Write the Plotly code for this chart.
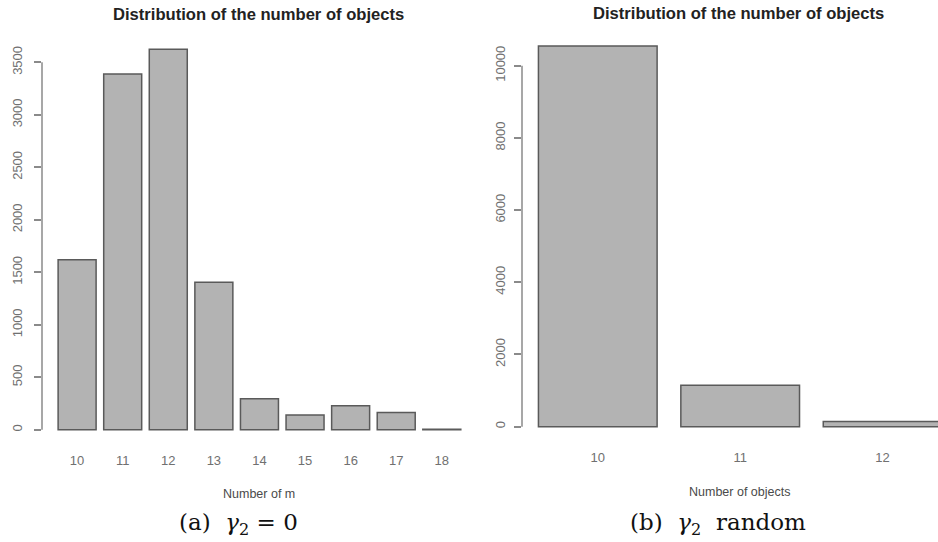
import plotly.graph_objects as go

# ---- data ----
cats_a = ["10", "11", "12", "13", "14", "15", "16", "17", "18"]
vals_a = [1620, 3390, 3625, 1405, 295, 140, 230, 165, 5]
ticks_a = [0, 500, 1000, 1500, 2000, 2500, 3000, 3500]

cats_b = ["10", "11", "12"]
vals_b = [10545, 1150, 140]
ticks_b = [0, 2000, 4000, 6000, 8000, 10000]

title_text = "Distribution of the number of objects"
xlabel_a = "Number of m"
xlabel_b = "Number of objects"
caption_a = "(a)&nbsp; <i>γ</i><sub>2</sub> = 0"
caption_b = "(b)&nbsp; <i>γ</i><sub>2</sub>&nbsp; random"

W, H = 938, 542
BAR_FILL = "#b3b3b3"
BAR_LINE = "#5a5a5a"
TICK_COL = "#707070"
SANS = "Liberation Sans, Arial, sans-serif"

fig = go.Figure()
fig.add_trace(go.Bar(x=cats_a, y=vals_a, xaxis="x", yaxis="y",
                     marker=dict(color=BAR_FILL, line=dict(color=BAR_LINE, width=1.5)),
                     showlegend=False))
fig.add_trace(go.Bar(x=cats_b, y=vals_b, xaxis="x2", yaxis="y2",
                     marker=dict(color=BAR_FILL, line=dict(color=BAR_LINE, width=1.5)),
                     showlegend=False))

def yr(vals):
    m = max(vals)
    return [-0.04 * m, 1.04 * m]

xaxis_common = dict(type="category", showgrid=False, zeroline=False, showline=False,
                    ticks="", tickfont=dict(family=SANS, size=13, color=TICK_COL),
                    ticklabelstandoff=6, fixedrange=True)
yaxis_common = dict(showgrid=False, zeroline=False, showline=False, ticks="outside",
                    ticklen=7, tickcolor="#8a8a8a", tickwidth=1.5, tickangle=-90,
                    tickformat="d",
                    tickfont=dict(family=SANS, size=13, color=TICK_COL), fixedrange=True)

fig.update_layout(
    width=W, height=H,
    margin=dict(l=0, r=0, t=0, b=0),
    paper_bgcolor="white", plot_bgcolor="white",
    bargap=1/6,
    xaxis=dict(xaxis_common, domain=[42/W, 470/W], range=[-0.77, (470-77)/45.6], anchor="y"),
    yaxis=dict(yaxis_common, domain=[1-445/H, 1-34/H], range=yr(vals_a), tickvals=ticks_a,
               anchor="x", ticklabelstandoff=7),
    xaxis2=dict(xaxis_common, domain=[522/W, 1.0], range=[-0.532, 2.389], anchor="y2"),
    yaxis2=dict(yaxis_common, domain=[1-441.9/H, 1-30.8/H], range=yr(vals_b), tickvals=ticks_b,
                anchor="x2", ticklabelstandoff=4),
)

# axis lines spanning the tick range only (R style)
for xr, yref, tv in [("x domain", "y", ticks_a), ("x2 domain", "y2", ticks_b)]:
    fig.add_shape(type="line", xref=xr, yref=yref, x0=0, x1=0, y0=min(tv), y1=max(tv),
                  line=dict(color="#8a8a8a", width=1.5))

ann = []
for cx, cy, txt in [(258/W, 1-15/H, title_text), (738/W, 1-13/H, title_text)]:
    ann.append(dict(x=cx, y=cy, xref="paper", yref="paper", text="<b>%s</b>" % txt,
                    showarrow=False, font=dict(family=SANS, size=16.6, color="#222222"),
                    xanchor="center", yanchor="middle"))
for cx, cy, txt in [(259/W, 1-494/H, xlabel_a), (739/W, 1-492/H, xlabel_b)]:
    ann.append(dict(x=cx, y=cy, xref="paper", yref="paper", text=txt, showarrow=False,
                    font=dict(family=SANS, size=12.5, color="#4a4a4a"),
                    xanchor="center", yanchor="middle"))
for cx, cy, txt in [(238/W, 1-524/H, caption_a), (718/W, 1-524/H, caption_b)]:
    ann.append(dict(x=cx, y=cy, xref="paper", yref="paper", text=txt, showarrow=False,
                    font=dict(family="DejaVu Serif, Liberation Serif, serif", size=23, color="#111111"),
                    xanchor="center", yanchor="middle"))
fig.update_layout(annotations=ann)

fig.write_html("out.html", config={"displayModeBar": False})
